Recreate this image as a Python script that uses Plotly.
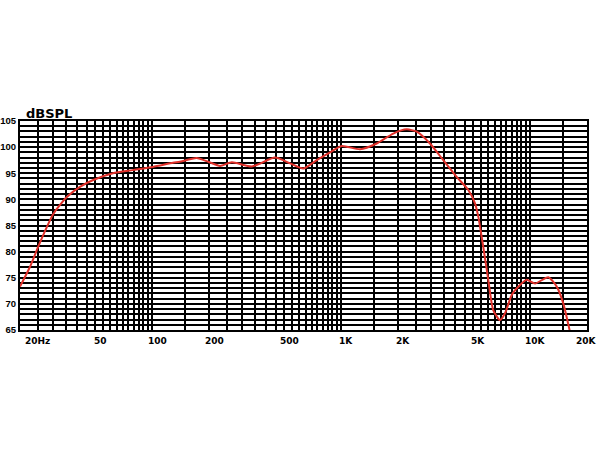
import numpy as np
import plotly.graph_objects as go

# Frequency response data (Hz, dB SPL)
freq_hz = [20, 22.6, 25, 27.8, 30, 32, 35.5, 41.5, 48.8, 62, 79, 101, 129, 140, 172, 198,
           229, 264, 337, 447, 537, 631, 743, 874, 1007, 1259, 1544, 1888, 2224, 2512,
           2952, 3474, 4089, 4710, 5110, 5320, 5652, 6008, 6380, 6930, 7368, 7995, 8848,
           9600, 10620, 12480, 13830, 14980, 16100, 16400]
spl_db = [73.3, 77.1, 81.0, 84.8, 87.2, 88.6, 90.5, 92.4, 93.7, 95.0, 95.6, 96.2, 97.0, 97.2,
          97.9, 97.2, 96.4, 97.1, 96.3, 98.0, 96.9, 95.9, 97.5, 99.0, 100.2, 99.6, 100.7,
          102.6, 103.4, 102.95, 100.7, 97.5, 94.3, 91.8, 89.25, 86.7, 80.9, 74.6, 68.8,
          66.9, 68.2, 71.7, 73.6, 74.6, 73.9, 75.1, 73.3, 70.1, 65.3, 64.0]

# Axis labels
y_label_vals = [65, 70, 75, 80, 85, 90, 95, 100, 105]
x_label_freqs = [20, 50, 100, 200, 500, 1000, 2000, 5000, 10000, 20000]
x_label_text = ["20Hz", "50", "100", "200", "500", "1K", "2K", "5K", "10K", "20K"]

# Grid: vertical lines at 1, 1.5, 2, ... 9.5 per decade; horizontal every 1 dB
mult = [m / 2 for m in range(2, 20)]
x_grid = [m * d for d in (10, 100, 1000, 10000) for m in mult]
x_grid = [f for f in x_grid if 20 <= f <= 20000]
y_grid = list(range(65, 106))

tick_font = dict(family="DejaVu Sans", size=9, color="black", weight="bold")
ytick_font = dict(family="Liberation Sans", size=9.5, color="black", weight="bold")

fig = go.Figure()
fig.add_trace(go.Scatter(x=freq_hz, y=spl_db, mode="lines",
                         line=dict(color="#e0302a", width=2, shape="spline", smoothing=0.6),
                         showlegend=False, hoverinfo="skip"))

fig.update_layout(
    width=600, height=450,
    margin=dict(l=20, r=13, t=121, b=120),
    paper_bgcolor="white", plot_bgcolor="white",
    xaxis=dict(type="log", range=[np.log10(20), np.log10(20000)],
               tickmode="array", tickvals=x_grid, ticktext=[""] * len(x_grid),
               showgrid=True, gridcolor="black", gridwidth=2,
               showline=True, linecolor="black", linewidth=2, mirror=True,
               ticks="", zeroline=False, automargin=False),
    yaxis=dict(range=[65, 105],
               tickmode="array", tickvals=y_grid,
               ticktext=[str(v) if v in y_label_vals else "" for v in y_grid],
               tickfont=ytick_font,
               showgrid=True, gridcolor="black", gridwidth=2,
               showline=True, linecolor="black", linewidth=2, mirror=True,
               ticks="", zeroline=False, ticklabelstandoff=0, automargin=False),
)

annotations = []
n = len(x_label_freqs)
for i, (f, t) in enumerate(zip(x_label_freqs, x_label_text)):
    if i == 0:
        anchor, shift = "left", 3
    elif i == n - 1:
        anchor, shift = "right", 12
    else:
        anchor, shift = "center", 5
    annotations.append(dict(x=np.log10(f), xref="x", y=0, yref="paper",
                            text=t, showarrow=False, font=tick_font,
                            xanchor=anchor, xshift=shift,
                            yanchor="top", yshift=-4))
annotations.append(dict(x=0, xref="paper", y=1, yref="paper", text="dBSPL",
                        showarrow=False, xanchor="left", yanchor="bottom",
                        xshift=4, yshift=-2,
                        font=dict(family="DejaVu Sans", size=13, color="black", weight="bold")))
fig.update_layout(annotations=annotations)

fig.write_html("out.html", config={"displayModeBar": False},
               post_script="document.body.style.margin='0';")
